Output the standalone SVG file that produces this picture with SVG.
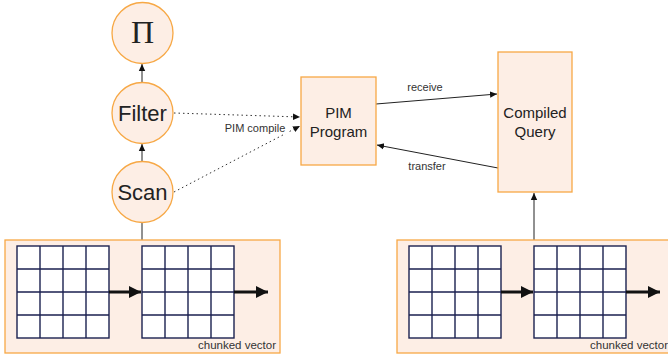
<svg xmlns="http://www.w3.org/2000/svg" width="668" height="358" viewBox="0 0 668 358">
<style>
.node{fill:#fdeee5;stroke:#f7a845;stroke-width:1.3}
.lbl{font-family:"Liberation Sans",Arial,sans-serif;fill:#222;text-anchor:middle}
.small{font-family:"Liberation Sans",Arial,sans-serif;font-size:11px;fill:#333}
.grid{fill:#fff;stroke:#1b2150;stroke-width:1.4}
.gl{stroke:#1b2150;stroke-width:1.4;fill:none}
.edge{stroke:#222;stroke-width:1;fill:none}
.dot{stroke:#333;stroke-width:1;stroke-dasharray:1.5 3;fill:none}
.thick{stroke:#111;stroke-width:3;fill:none}
</style>
<defs>
<marker id="ah" markerWidth="8" markerHeight="8" refX="7" refY="4" orient="auto" markerUnits="userSpaceOnUse"><path d="M0,0.8 L7,4 L0,7.2 Z" fill="#111"/></marker>
<marker id="ahb" markerWidth="14" markerHeight="12" refX="12" refY="6" orient="auto" markerUnits="userSpaceOnUse"><path d="M0,0 L12,6 L0,12 Z" fill="#111"/></marker>
<g id="gridpat">
<rect class="grid" x="0" y="0" width="92" height="92"/>
<path class="gl" d="M23,0V92M46,0V92M69,0V92M0,23H92M0,46H92M0,69H92"/>
</g>
</defs>
<g id="edges">
<line class="edge" x1="142" y1="222" x2="142" y2="240"/>
<line class="edge" x1="142" y1="162" x2="142" y2="144" marker-end="url(#ah)"/>
<line class="edge" x1="142" y1="82" x2="142" y2="64" marker-end="url(#ah)"/>
<line class="dot" x1="174" y1="113" x2="300" y2="117" marker-end="url(#ah)"/>
<line class="dot" x1="174" y1="192" x2="300" y2="126" marker-end="url(#ah)"/>
<rect x="222" y="122" width="66" height="12" fill="#fff"/>
<text class="small" x="255" y="132" text-anchor="middle">PIM compile</text>
<line class="edge" x1="376" y1="104" x2="497" y2="94" marker-end="url(#ah)"/>
<text class="small" x="425" y="91" text-anchor="middle">receive</text>
<line class="edge" x1="498" y1="168" x2="377" y2="145" marker-end="url(#ah)"/>
<text class="small" x="427" y="170" text-anchor="middle">transfer</text>
<line class="edge" x1="534" y1="240" x2="534" y2="193" marker-end="url(#ah)"/>
</g>
<g id="pi"><circle class="node" cx="142.5" cy="33" r="30.5"/><text class="lbl" x="142.5" y="43" style="font-family:'Liberation Serif',serif;font-size:32px">Π</text></g>
<g id="filter"><circle class="node" cx="142.5" cy="113" r="30.5"/><text class="lbl" x="142.5" y="121" font-size="22">Filter</text></g>
<g id="scan"><circle class="node" cx="142.5" cy="192" r="30.5"/><text class="lbl" x="142.5" y="200" font-size="22">Scan</text></g>
<g id="pimprogram"><rect class="node" x="301" y="77" width="75" height="88"/><text class="lbl" x="338.5" y="118" font-size="15">PIM</text><text class="lbl" x="338.5" y="137" font-size="15">Program</text></g>
<g id="compiledquery"><rect class="node" x="498" y="52" width="74" height="140"/><text class="lbl" x="535" y="118" font-size="15">Compiled</text><text class="lbl" x="535" y="137" font-size="15">Query</text></g>
<g id="vector1">
<rect class="node" x="5" y="240" width="275" height="113"/>
<use href="#gridpat" x="17" y="246"/>
<use href="#gridpat" x="142" y="246"/>
<line class="thick" x1="109" y1="292" x2="141" y2="292" marker-end="url(#ahb)"/>
<line class="thick" x1="234" y1="292" x2="268" y2="292" marker-end="url(#ahb)"/>
<text class="small" x="276" y="349" text-anchor="end" font-size="11.5" style="font-size:11.5px">chunked vector</text>
</g>
<g id="vector2">
<rect class="node" x="397" y="240" width="275" height="113"/>
<use href="#gridpat" x="409" y="246"/>
<use href="#gridpat" x="534" y="246"/>
<line class="thick" x1="501" y1="292" x2="533" y2="292" marker-end="url(#ahb)"/>
<line class="thick" x1="626" y1="292" x2="660" y2="292" marker-end="url(#ahb)"/>
<text class="small" x="668" y="349" text-anchor="end" style="font-size:11.5px">chunked vector</text>
</g>
</svg>
